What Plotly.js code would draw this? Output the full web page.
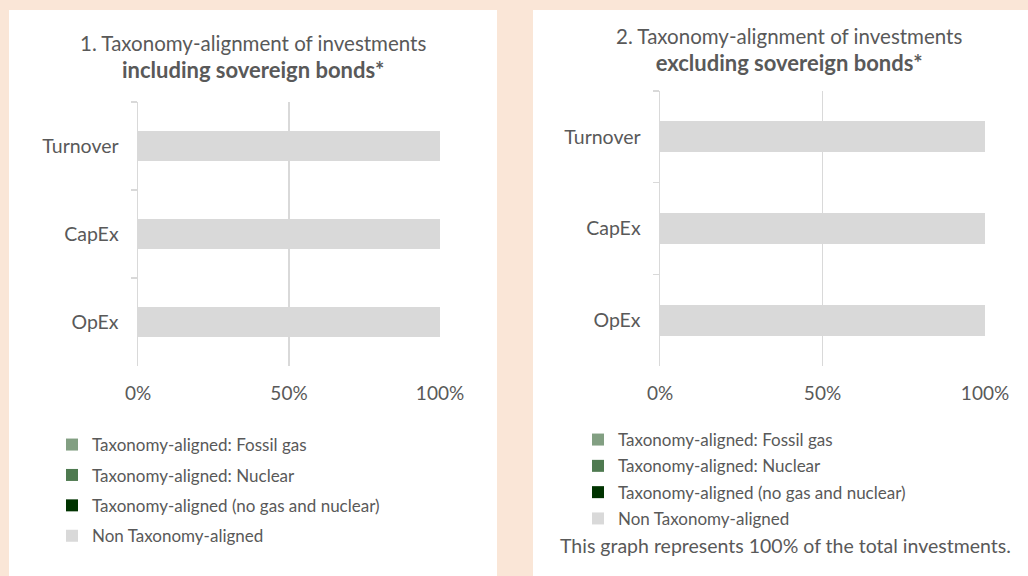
<!DOCTYPE html>
<html>
<head>
<meta charset="utf-8">
<script src="https://cdn.plot.ly/plotly-3.0.1.min.js"></script>
<style>
html,body{margin:0;padding:0;background:#FAE6D7;}
#chart{width:1028px;height:576px;}
</style>
</head>
<body>
<div id="chart"></div>
<script>
// ---- data ----
const categories = ['Turnover', 'CapEx', 'OpEx'];
const seriesNames = [
  'Taxonomy-aligned: Fossil gas',
  'Taxonomy-aligned: Nuclear',
  'Taxonomy-aligned (no gas and nuclear)',
  'Non Taxonomy-aligned'
];
// chart 1: including sovereign bonds (%)
const inclFossilGas = [0, 0, 0];
const inclNuclear = [0, 0, 0];
const inclAligned = [0, 0, 0];
const inclNonAligned = [100, 100, 100];
// chart 2: excluding sovereign bonds (%)
const exclFossilGas = [0, 0, 0];
const exclNuclear = [0, 0, 0];
const exclAligned = [0, 0, 0];
const exclNonAligned = [100, 100, 100];
const tickVals = [0, 50, 100];
const tickText = ['0%', '50%', '100%'];
const title1 = ['1. Taxonomy-alignment of investments', 'including sovereign bonds*'];
const title2 = ['2. Taxonomy-alignment of investments', 'excluding sovereign bonds*'];
const footnote = 'This graph represents 100% of the total investments.';

// ---- styles ----
const colors = ['#829F82', '#4E7A50', '#003300', '#D9D9D9'];
const textColor = '#595959';
const FONT = 'Lato, "Open Sans", sans-serif';

const incl = [inclFossilGas, inclNuclear, inclAligned, inclNonAligned];
const excl = [exclFossilGas, exclNuclear, exclAligned, exclNonAligned];

const traces = [];
incl.forEach((vals, i) => {
  traces.push({
    type: 'bar', orientation: 'h', y: categories, x: vals, name: seriesNames[i],
    marker: {color: colors[i]}, xaxis: 'x', yaxis: 'y', legend: 'legend',
    legendgroup: 'a' + i, hoverinfo: 'x+name'
  });
});
excl.forEach((vals, i) => {
  traces.push({
    type: 'bar', orientation: 'h', y: categories, x: vals, name: seriesNames[i],
    marker: {color: colors[i]}, xaxis: 'x2', yaxis: 'y2', legend: 'legend2',
    legendgroup: 'b' + i, hoverinfo: 'x+name'
  });
});

const W = 1028, H = 576;
const px = v => v / W;
const py = v => 1 - v / H;

function xax(d0, d1, anchor) {
  return {
    domain: [px(d0), px(d1)], anchor: anchor, range: [0, 100], fixedrange: true,
    tickvals: tickVals, ticktext: tickText, showgrid: true, gridcolor: '#D9D9D9', gridwidth: 1.5,
    zeroline: false, showline: false, ticks: '', ticklabelstandoff: 14,
    tickfont: {family: FONT, size: 19, color: textColor}
  };
}
function yax(d0, d1, anchor) {
  return {
    domain: [py(d1), py(d0)], anchor: anchor, type: 'category', range: [2.5, -0.5],
    fixedrange: true, showline: true, linecolor: '#D9D9D9', linewidth: 1.5,
    ticks: 'outside', tickson: 'boundaries', ticklen: 6, tickcolor: '#D9D9D9', tickwidth: 1.5,
    showgrid: false, ticklabelstandoff: 14,
    tickfont: {family: FONT, size: 19.5, color: textColor}
  };
}

const layout = {
  width: W, height: H,
  margin: {l: 0, r: 0, t: 0, b: 0},
  paper_bgcolor: '#FAE6D7', plot_bgcolor: 'rgba(0,0,0,0)',
  barmode: 'stack', bargap: 0.66,
  xaxis: xax(138, 440, 'y'),
  yaxis: yax(102, 366, 'x'),
  xaxis2: xax(660, 985, 'y2'),
  yaxis2: yax(91, 366, 'x2'),
  shapes: [
    {type: 'rect', xref: 'paper', yref: 'paper', x0: px(9), x1: px(497), y0: -0.1, y1: py(10),
     fillcolor: '#FFFFFF', line: {width: 0}, layer: 'below'},
    {type: 'rect', xref: 'paper', yref: 'paper', x0: px(533), x1: 1.05, y0: -0.1, y1: py(10),
     fillcolor: '#FFFFFF', line: {width: 0}, layer: 'below'}
  ],
  annotations: [
    {xref: 'paper', yref: 'paper', x: px(253), y: py(57.5), xanchor: 'center', yanchor: 'middle',
     showarrow: false, text: title1[0] + '<br><b><span style="font-size:22px">' + title1[1] + '</span></b>', align: 'center',
     font: {family: FONT, size: 20.5, color: textColor}},
    {xref: 'paper', yref: 'paper', x: px(789), y: py(49.5), xanchor: 'center', yanchor: 'middle',
     showarrow: false, text: title2[0] + '<br><b><span style="font-size:22px">' + title2[1] + '</span></b>', align: 'center',
     font: {family: FONT, size: 20.5, color: textColor}},
    {xref: 'paper', yref: 'paper', x: px(785.5), y: py(545), xanchor: 'center', yanchor: 'middle',
     showarrow: false, text: footnote, font: {family: FONT, size: 19.5, color: textColor}}
  ],
  legend: {
    x: px(52), y: py(427), xanchor: 'left', yanchor: 'top', orientation: 'v',
    traceorder: 'grouped', tracegroupgap: 5.3, bgcolor: 'rgba(0,0,0,0)',
    font: {family: FONT, size: 17, color: textColor}
  },
  legend2: {
    x: px(578), y: py(422), xanchor: 'left', yanchor: 'top', orientation: 'v',
    traceorder: 'grouped', tracegroupgap: 1.2, bgcolor: 'rgba(0,0,0,0)',
    font: {family: FONT, size: 17, color: textColor}
  },
  showlegend: true
};

Plotly.newPlot('chart', traces, layout, {displayModeBar: false, staticPlot: true});
</script>
</body>
</html>
